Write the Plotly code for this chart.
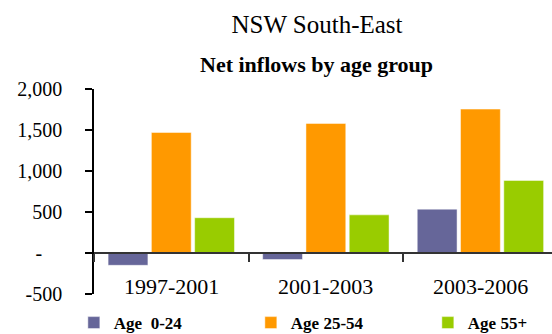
import plotly.graph_objects as go

# Net inflows (persons) by period and age group
periods = ["1997-2001", "2001-2003", "2003-2006"]
age_0_24 = [-150, -80, 535]
age_25_54 = [1470, 1580, 1755]
age_55_plus = [430, 465, 885]

series_names = ["Age  0-24", "Age 25-54", "Age 55+"]
series_colors = ["#666699", "#FF9900", "#99CC00"]

y_tick_vals = [-500, 0, 500, 1000, 1500, 2000]
y_tick_text = ["-500", "-\u00a0\u00a0\u00a0\u00a0", "500", "1,000", "1,500", "2,000"]

SERIF = "Liberation Serif"

fig = go.Figure()
for name, vals, col in zip(series_names, [age_0_24, age_25_54, age_55_plus], series_colors):
    fig.add_trace(go.Bar(
        x=periods, y=vals, name=name,
        marker=dict(color=col, line=dict(color="rgba(255,255,255,0.6)", width=0.8)),
    ))

# Period labels sit along the bottom of the plot area
for p in periods:
    fig.add_annotation(
        x=p, y=-500, xref="x", yref="y", text=p, showarrow=False,
        yanchor="middle", yshift=8,
        font=dict(family=SERIF, size=22, color="#000000"),
    )

# Subtitle
fig.add_annotation(
    x=0.485, y=1.12, xref="paper", yref="paper", showarrow=False,
    text="<b>Net inflows by age group</b>", yanchor="middle",
    font=dict(family=SERIF, size=22, color="#000000"),
)

fig.update_layout(
    width=552, height=334,
    margin=dict(l=94, r=0, t=89, b=40, autoexpand=False),
    paper_bgcolor="white", plot_bgcolor="white",
    font=dict(family=SERIF, color="#000000"),
    title=dict(
        text="NSW South-East", x=317 / 552, xanchor="center", xref="container",
        y=1 - 24 / 334, yanchor="middle", yref="container",
        font=dict(family=SERIF, size=25, color="#000000"),
    ),
    barmode="group", bargap=0.16, bargroupgap=0.08,
    showlegend=True,
    legend=dict(
        orientation="h", x=-0.044, xanchor="left", y=-0.054, yanchor="top",
        font=dict(family=SERIF, size=17, color="#000000", weight="bold"),
        itemwidth=30, entrywidth=132, entrywidthmode="pixels",
        bgcolor="rgba(0,0,0,0)", traceorder="normal",
    ),
    xaxis=dict(
        type="category", range=[-0.5, 2.463],
        anchor="free", position=0.2,
        showline=True, linecolor="#333333", linewidth=1.5,
        ticks="outside", tickson="boundaries", ticklen=8, tickwidth=1.5, tickcolor="#333333",
        showticklabels=False, showgrid=False, zeroline=False,
    ),
    yaxis=dict(
        range=[-500, 2000], tickvals=y_tick_vals, ticktext=y_tick_text,
        showline=True, linecolor="#000000", linewidth=1.5,
        ticks="outside", ticklen=7, tickwidth=1.5, tickcolor="#000000",
        ticklabelstandoff=19,
        tickfont=dict(family=SERIF, size=20, color="#000000"),
        showgrid=False, zeroline=False,
    ),
)

fig.write_html("out.html")
